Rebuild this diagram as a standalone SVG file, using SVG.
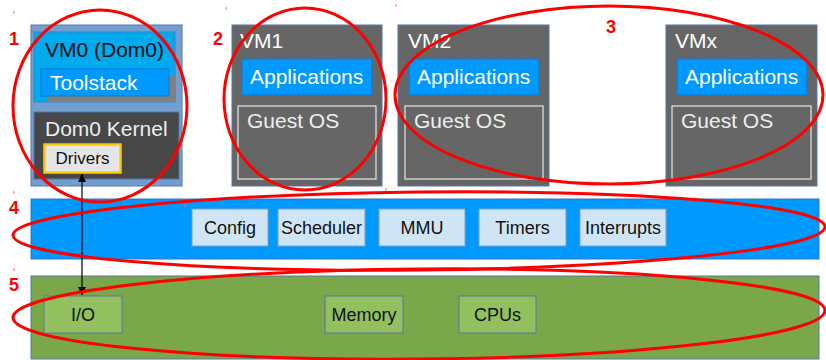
<svg xmlns="http://www.w3.org/2000/svg" width="826" height="360" viewBox="0 0 826 360">
<style>
text{font-family:"Liberation Sans",Arial,sans-serif}
.vm{fill:#666666;stroke:#5577aa;stroke-width:1}
.app{fill:#0099ff;stroke:#1177cc;stroke-width:1}
.os{fill:none;stroke:#e6e6e6;stroke-width:1.2}
.wt{fill:#ffffff;font-size:21px}
.ost{fill:#eeeeee;font-size:21px}
.hv{fill:#cfe5f5;stroke:#7f9fc0;stroke-width:1}
.hw{fill:#93c05e;stroke:#5577aa;stroke-width:1}
.bt{fill:#111111;font-size:17px;text-anchor:middle}
.ht{fill:#111111;font-size:18px;text-anchor:middle}
.ring{fill:none;stroke:#ff0000;stroke-width:3}
.num{fill:#ff0000;font-size:18px;font-weight:bold}
.tick{stroke:#ff6666;stroke-width:1}
</style>
<defs>
<marker id="ah" viewBox="0 0 10 10" refX="10" refY="5" markerWidth="8" markerHeight="10" markerUnits="userSpaceOnUse" orient="auto-start-reverse">
<path d="M0,0 L10,5 L0,10 z" fill="#000000"/>
</marker>
</defs>
<rect width="826" height="360" fill="#ffffff"/>

<g id="dom0">
<rect x="31" y="25" width="151" height="161" fill="#729fcf" stroke="#5577aa"/>
<rect x="34" y="32" width="141" height="70" fill="#00aaee" stroke="#3388cc"/>
<text x="45" y="57" style="fill:#111;font-size:21px">VM0 (Dom0)</text>
<rect x="48" y="75" width="128" height="27" fill="#808080"/>
<rect x="41" y="69" width="128" height="27" class="app"/>
<text x="50" y="90" class="wt">Toolstack</text>
<rect x="34" y="112" width="145" height="67" fill="#474747" stroke="#5577aa"/>
<text x="45" y="136" style="fill:#eeeeee;font-size:21px">Dom0 Kernel</text>
<rect x="44.5" y="144.5" width="76" height="28" fill="#e6e6e6" stroke="#ffcc00" stroke-width="2.5"/>
<text x="82.5" y="164" class="bt">Drivers</text>
</g>

<g id="vm1">
<rect x="232" y="25" width="150" height="161" class="vm"/>
<text x="240" y="48" class="wt">VM1</text>
<rect x="242" y="59" width="130" height="36" class="app"/>
<text x="250" y="84" class="wt">Applications</text>
<rect x="238" y="106" width="138" height="73" class="os"/>
<text x="247" y="128" class="ost">Guest OS</text>
</g>

<g id="vm2">
<rect x="398" y="25" width="151" height="161" class="vm"/>
<text x="408" y="48" class="wt">VM2</text>
<rect x="409" y="59" width="130" height="36" class="app"/>
<text x="417" y="84" class="wt">Applications</text>
<rect x="405" y="106" width="138" height="73" class="os"/>
<text x="414" y="128" class="ost">Guest OS</text>
</g>

<g id="vmx">
<rect x="666" y="25" width="151" height="161" class="vm"/>
<text x="675" y="48" class="wt">VMx</text>
<rect x="677" y="59" width="130" height="36" class="app"/>
<text x="685" y="84" class="wt">Applications</text>
<rect x="672" y="106" width="139" height="73" class="os"/>
<text x="681" y="128" class="ost">Guest OS</text>
</g>

<g id="hypervisor">
<rect x="31" y="199" width="788" height="60" fill="#0099ff" stroke="#3377bb"/>
<rect x="192" y="209" width="76" height="37" class="hv"/>
<text x="230" y="234" class="ht">Config</text>
<rect x="278" y="209" width="87" height="37" class="hv"/>
<text x="321.5" y="234" class="ht">Scheduler</text>
<rect x="379" y="209" width="86" height="37" class="hv"/>
<text x="422" y="234" class="ht">MMU</text>
<rect x="479" y="209" width="87" height="37" class="hv"/>
<text x="522.5" y="234" class="ht">Timers</text>
<rect x="580" y="209" width="86" height="37" class="hv"/>
<text x="623" y="234" class="ht">Interrupts</text>
</g>

<g id="hardware">
<rect x="31" y="276" width="788" height="83" fill="#7aa74a" stroke="#5577aa"/>
<rect x="44" y="296" width="78" height="37" class="hw"/>
<text x="83" y="321" class="ht">I/O</text>
<rect x="325" y="296" width="78" height="37" class="hw"/>
<text x="364" y="321" class="ht">Memory</text>
<rect x="459" y="296" width="77" height="37" class="hw"/>
<text x="497.5" y="321" class="ht">CPUs</text>
</g>

<g id="connectors">
<line x1="82" y1="174" x2="82" y2="295" stroke="#000000" stroke-width="1.2" marker-start="url(#ah)" marker-end="url(#ah)"/>
</g>

<g id="annotations">
<ellipse cx="100" cy="106" rx="87" ry="96" class="ring"/>
<ellipse cx="305" cy="99" rx="81" ry="91" class="ring"/>
<ellipse cx="609" cy="95" rx="214" ry="89" class="ring"/>
<ellipse cx="419" cy="231" rx="406" ry="39" class="ring" transform="rotate(-0.6 419 231)"/>
<ellipse cx="419" cy="314" rx="406" ry="45" class="ring" transform="rotate(-0.5 419 314)"/>
<text x="9" y="45" class="num">1</text>
<text x="213" y="45" class="num">2</text>
<text x="606" y="33" class="num">3</text>
<text x="9" y="214" class="num">4</text>
<text x="9" y="291" class="num">5</text>
<line x1="14" y1="11" x2="14" y2="14" class="tick"/>
<line x1="14" y1="191" x2="14" y2="194" class="tick"/>
<line x1="14" y1="268" x2="14" y2="271" class="tick"/>
<line x1="226" y1="7" x2="226" y2="10" class="tick"/>
<line x1="396" y1="4" x2="396" y2="7" class="tick"/>
<line x1="386" y1="188" x2="386" y2="191" class="tick"/>
<line x1="185" y1="204" x2="185" y2="207" class="tick"/>
</g>
</svg>
